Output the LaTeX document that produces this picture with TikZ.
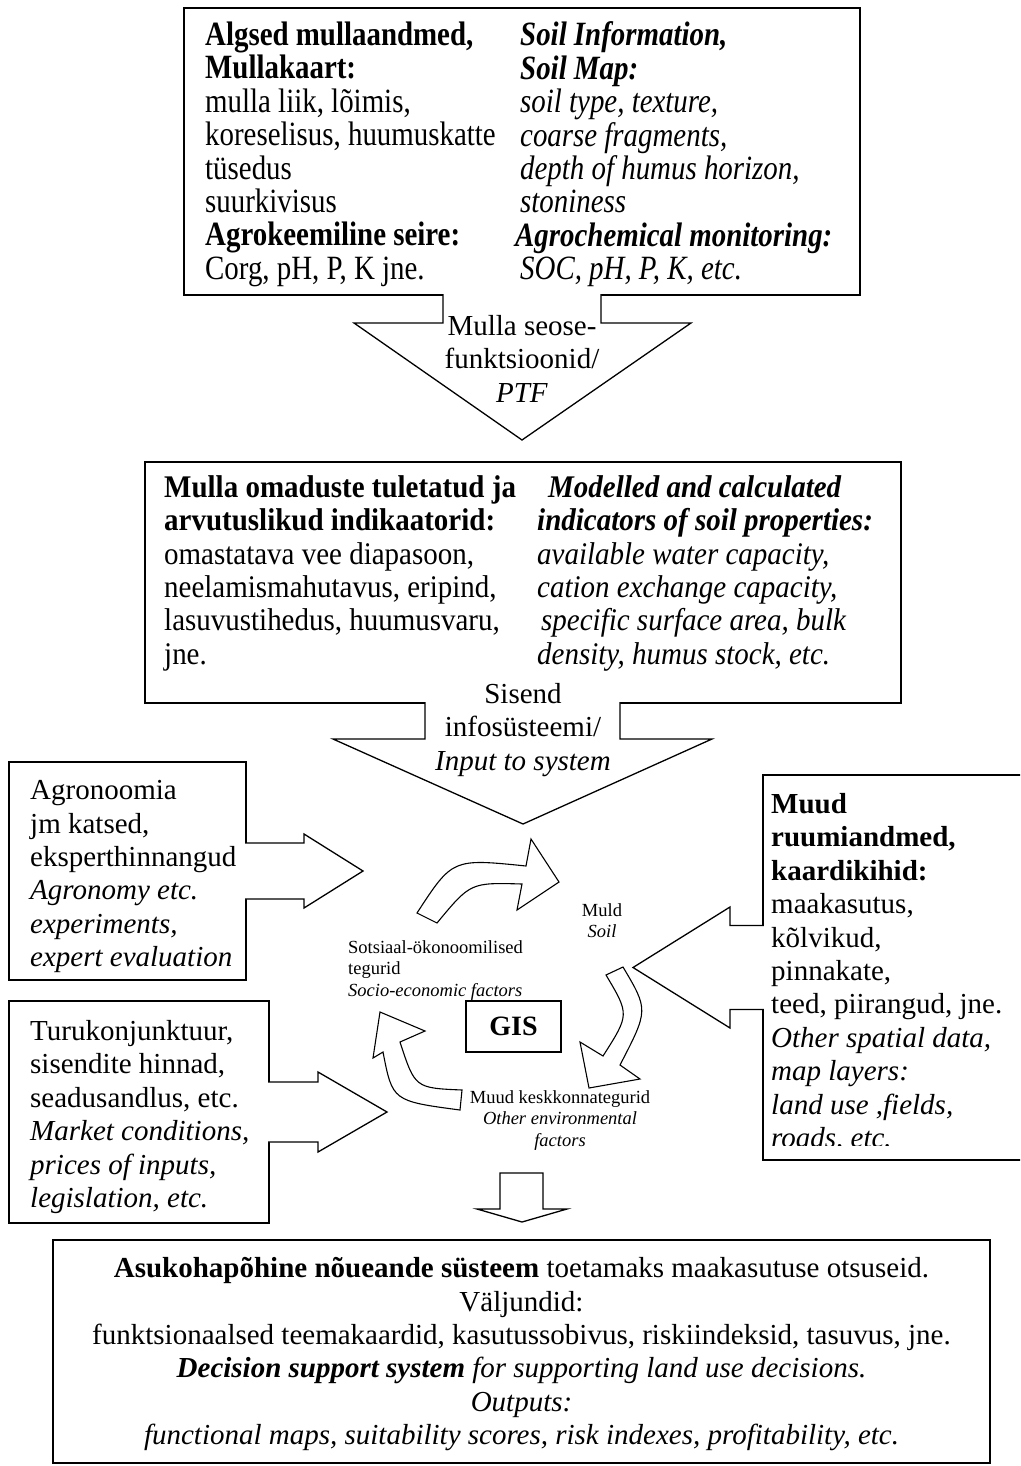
\documentclass[tikz,border=0pt]{standalone}
\usepackage{fontspec}
\setmainfont{Liberation Serif}
\newfontfamily\tallserif[FakeStretch=0.85]{Liberation Serif}
\newfontfamily\midserif[FakeStretch=0.92]{Liberation Serif}
\usetikzlibrary{positioning, calc}

\newcommand{\bodysize}{\fontsize{29}{33.4}\selectfont}
\newcommand{\labelsize}{\fontsize{18.5}{21.4}\selectfont}

\begin{document}
\begin{tikzpicture}[
    x=1pt, y=-1pt,
    panel/.style={rectangle, draw, line width=1.4pt, inner sep=0pt, outer sep=0pt, anchor=north west},
    coltext/.style={align=left, inner sep=0pt, anchor=north west, font=\bodysize},
    midtext/.style={align=center, inner sep=0pt, anchor=north, font=\bodysize},
    smalltext/.style={inner sep=0pt, font=\labelsize},
    blockarrow/.style={draw, fill=white, line width=1.3pt, line join=miter},
    turnarrow/.style={draw, fill=white, line width=1.1pt, line join=miter}
]
\useasboundingbox (0,0) rectangle (1020,1466);
\clip (0,0) rectangle (1020,1466);

% Boxes
\node[panel, minimum width=676pt, minimum height=287pt] (soilinfo) at (184,8) {};
\node[panel, minimum width=756pt, minimum height=241pt] (derived) at (145,462) {};
\node[panel, minimum width=237pt, minimum height=218pt] (agro) at (9,762) {};
\node[panel, minimum width=260pt, minimum height=222pt] (market) at (9,1001) {};
\node[panel, minimum width=267pt, minimum height=385pt] (spatial) at (763,775) {};
\node[panel, minimum width=937pt, minimum height=223pt] (dss) at (53,1240) {};

% Block arrows
\path[blockarrow] ($(soilinfo.south)+(-79,-0.8)$) -- ($(soilinfo.south)+(-79,28)$) -- ($(soilinfo.south)+(-168,28)$)
    -- ($(soilinfo.south)+(0,145)$) -- ($(soilinfo.south)+(169,28)$) -- ($(soilinfo.south)+(79,28)$) -- ($(soilinfo.south)+(79,-0.8)$);
\path[blockarrow] ($(derived.south)+(-98,-0.8)$) -- ($(derived.south)+(-98,36)$) -- ($(derived.south)+(-190,36)$)
    -- ($(derived.south)+(0,121)$) -- ($(derived.south)+(189,36)$) -- ($(derived.south)+(97,36)$) -- ($(derived.south)+(97,-0.8)$);
\path[blockarrow] ($(agro.east)+(-0.8,-28)$) -- ($(agro.east)+(58,-28)$) -- ($(agro.east)+(58,-37)$)
    -- ($(agro.east)+(117,0)$) -- ($(agro.east)+(58,37)$) -- ($(agro.east)+(58,28)$) -- ($(agro.east)+(-0.8,28)$);
\path[blockarrow] ($(market.east)+(-0.8,-30)$) -- ($(market.east)+(49,-30)$) -- ($(market.east)+(49,-40)$)
    -- ($(market.east)+(118,0)$) -- ($(market.east)+(49,40)$) -- ($(market.east)+(49,30)$) -- ($(market.east)+(-0.8,30)$);
\path[blockarrow] ($(spatial.west)+(0.8,-42)$) -- ($(spatial.west)+(-33,-42)$) -- ($(spatial.west)+(-33,-60.5)$)
    -- ($(spatial.west)+(-130,0)$) -- ($(spatial.west)+(-33,60.5)$) -- ($(spatial.west)+(-33,42)$) -- ($(spatial.west)+(0.8,42)$);
\path[blockarrow] ($(dss.north)+(-21.5,-67)$) -- ($(dss.north)+(-21.5,-31)$) -- ($(dss.north)+(-44.5,-31)$)
    -- ($(dss.north)+(0.5,-18)$) -- ($(dss.north)+(45.5,-31)$) -- ($(dss.north)+(21.5,-31)$) -- ($(dss.north)+(21.5,-67)$) -- cycle;

% GIS and the cycle around it
\node[panel, anchor=center, minimum width=95pt, minimum height=51pt, font=\fontsize{28}{30}\selectfont\bfseries] (gis) at (513.5,1026.5) {GIS};
\draw[turnarrow] (417,913) .. controls (452.5,858.5) .. (526,866) -- (531,839) -- (559,882) -- (517,910)
    -- (522,884) .. controls (470.5,882.5) .. (437,923) -- cycle;
\draw[turnarrow] (623,967) .. controls (648.5,1010) .. (620,1065) -- (640,1079) -- (589,1088) -- (580,1042)
    -- (603,1056) .. controls (629.5,1014.5) .. (606,975) -- cycle;
\draw[turnarrow] (462,1090) .. controls (415,1088) .. (400,1042) -- (425,1031) -- (380,1012) -- (373,1058)
    -- (383,1052) .. controls (392.5,1101) .. (460,1110) -- cycle;

\node[smalltext, align=center, anchor=north] (soil) at (602,903.4) {Muld\\\textit{Soil}};
\node[smalltext, align=left, anchor=north west] (socio) at (348,940.4) {Sotsiaal-ökonoomilised\\tegurid\\\textit{Socio-economic factors}};
\node[smalltext, align=center, anchor=north] (envir) at (560,1090.4) {Muud keskkonnategurid\\\textit{Other environmental}\\\textit{factors}};

% Soil data
\node[coltext, font=\tallserif\fontsize{34}{33.4}\selectfont, below right=13.8pt and 21pt of soilinfo.north west] (soilet) {\textbf{Algsed mullaandmed,}\\\textbf{Mullakaart:}\\mulla liik, lõimis,\\koreselisus, huumuskatte\\tüsedus\\suurkivisus\\\textbf{Agrokeemiline seire:}\\Corg, pH, P, K jne.};
\node[coltext, font=\tallserif\fontsize{34}{33.4}\selectfont, below right=13.8pt and 336pt of soilinfo.north west] (soilen) {\textbf{\textit{Soil Information,}}\\\textbf{\textit{Soil Map:}}\\\textit{soil type, texture,}\\\textit{coarse fragments,}\\\textit{depth of humus horizon,}\\\textit{stoniness}\\\hspace*{-5pt}\textbf{\textit{Agrochemical monitoring:}}\\\textit{SOC, pH, P, K, etc.}};
\node[midtext, below=20.2pt of soilinfo.south] (ptf) {Mulla seose-\\funktsioonid/\\\textit{PTF}};

% Derived indicators
\node[coltext, font=\midserif\fontsize{31.5}{33.3}\selectfont, below right=13.5pt and 19pt of derived.north west] (derivedet) {\textbf{Mulla omaduste tuletatud ja}\\\textbf{arvutuslikud indikaatorid:}\\omastatava vee diapasoon,\\neelamismahutavus, eripind,\\lasuvustihedus, huumusvaru,\\jne.};
\node[coltext, font=\midserif\fontsize{31.5}{33.3}\selectfont, below right=13.5pt and 392pt of derived.north west] (deriveden) {\hspace*{11pt}\textbf{\textit{Modelled and calculated}}\\\textbf{\textit{indicators of soil properties:}}\\\textit{available water capacity,}\\\textit{cation exchange capacity,}\\\hspace*{4pt}\textit{specific surface area, bulk}\\\textit{density, humus stock, etc.}};
\node[midtext] (inputtext) at ($(derived.south)+(0,-19.8)$) {Sisend\\infosüsteemi/\\\textit{Input to system}};

% Side inputs
\node[coltext, below right=18.2pt and 21pt of agro.north west] (agrotext) {Agronoomia\\jm katsed,\\eksperthinnangud\\\textit{Agronomy etc.}\\\textit{experiments,}\\\textit{expert evaluation}};
\node[coltext, below right=19.2pt and 21pt of market.north west] (markettext) {Turukonjunktuur,\\sisendite hinnad,\\seadusandlus, etc.\\\textit{Market conditions,}\\\textit{prices of inputs,}\\\textit{legislation, etc.}};
\begin{scope}
  \clip (spatial.north west) rectangle ($(spatial.south east)+(0,-15)$);
  \node[coltext, below right=18.2pt and 8pt of spatial.north west] (spatialtext) {\textbf{Muud}\\\textbf{ruumiandmed,}\\\textbf{kaardikihid:}\\maakasutus,\\kõlvikud,\\pinnakate,\\teed, piirangud, jne.\\\textit{Other spatial data,}\\\textit{map layers:}\\\textit{land use ,fields,}\\\textit{roads, etc.}};
\end{scope}

% Output
\node[midtext, below=17.2pt of dss.north] (dsstext) {\textbf{Asukohapõhine nõueande süsteem} toetamaks maakasutuse otsuseid.\\Väljundid:\\funktsionaalsed teemakaardid, kasutussobivus, riskiindeksid, tasuvus, jne.\\\textbf{\textit{Decision support system}} \textit{for supporting land use decisions.}\\\textit{Outputs:}\\\textit{functional maps, suitability scores, risk indexes, profitability, etc.}};

\end{tikzpicture}
\end{document}
